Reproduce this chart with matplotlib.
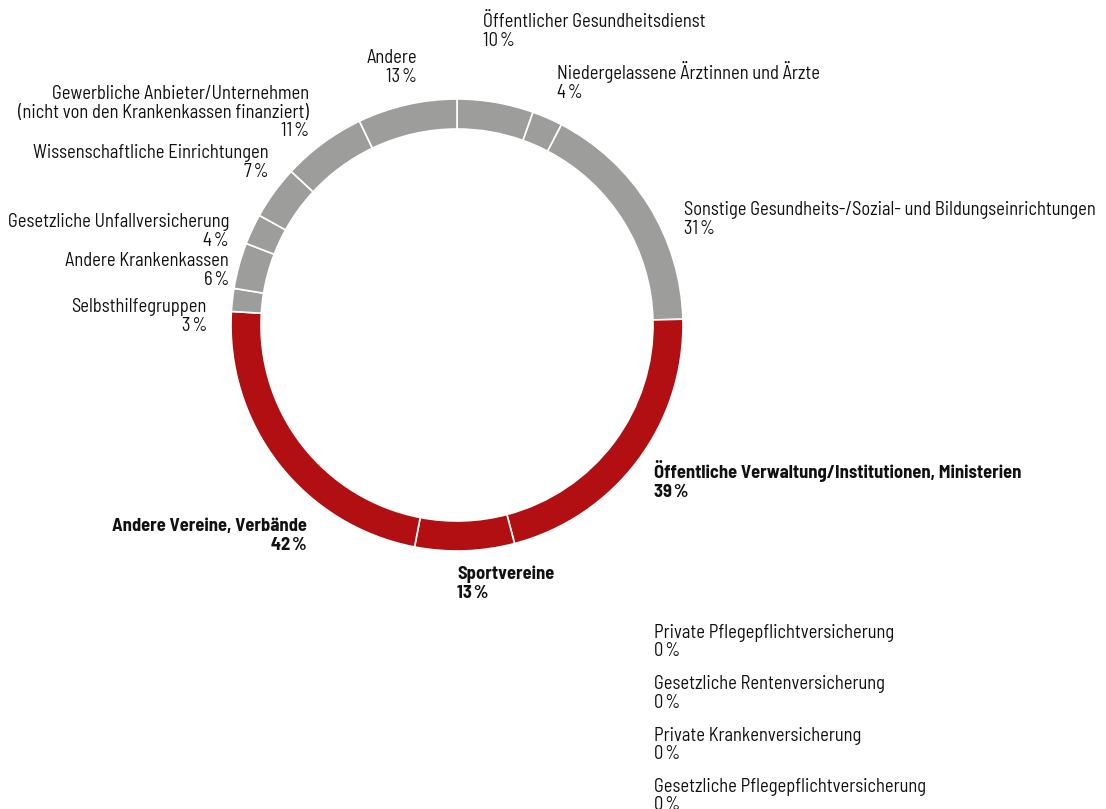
import matplotlib.pyplot as plt
from matplotlib import font_manager

# segments clockwise from 12 o'clock
labels = ["Öffentlicher Gesundheitsdienst", "Niedergelassene Ärztinnen und Ärzte",
          "Sonstige Gesundheits-/Sozial- und Bildungseinrichtungen",
          "Öffentliche Verwaltung/Institutionen, Ministerien", "Sportvereine",
          "Andere Vereine, Verbände", "Selbsthilfegruppen", "Andere Krankenkassen",
          "Gesetzliche Unfallversicherung", "Wissenschaftliche Einrichtungen",
          "Gewerbliche Anbieter/Unternehmen\n(nicht von den Krankenkassen finanziert)",
          "Andere"]
values = [10, 4, 31, 39, 13, 42, 3, 6, 4, 7, 11, 13]
highlight = [False, False, False, True, True, True, False, False, False, False, False, False]

zero_labels = ["Private Pflegepflichtversicherung", "Gesetzliche Rentenversicherung",
               "Private Krankenversicherung", "Gesetzliche Pflegepflichtversicherung"]
zero_values = [0, 0, 0, 0]

GREY = "#9d9d9c"
RED = "#b20f12"
TXT = "#111111"
W, H = 1106, 809

installed = {f.name for f in font_manager.fontManager.ttflist}
if 'Barlow Semi Condensed' in installed:
    plt.rcParams['font.family'] = ['Barlow Semi Condensed', 'DejaVu Sans']
    fs = 13.3
else:
    plt.rcParams['font.family'] = ['DejaVu Sans']
    fs = 10.5

fig = plt.figure(figsize=(W / 100, H / 100), dpi=100)
ax = fig.add_axes([0, 0, 1, 1])

cx, cy = 457, H - 325
colors = [RED if h else GREY for h in highlight]
ax.pie(values, colors=colors, startangle=90, counterclock=False, radius=226,
       center=(cx, cy), wedgeprops=dict(width=30, edgecolor='white', linewidth=1.2))
ax.set_xlim(0, W)
ax.set_ylim(0, H)
ax.set_aspect('equal')
ax.axis('off')

# label anchor: x, y of first line centre (pixels from top-left), alignment
label_pos = [(483, 21, 'left'), (557, 73, 'left'), (684, 209, 'left'),
             (654, 472, 'left'), (457, 573, 'left'), (307, 525, 'right'),
             (207, 306, 'right'), (229, 260, 'right'), (229, 221, 'right'),
             (269, 152, 'right'), (309, 93, 'right'), (417, 57, 'right')]
LINE = 18.5


def put_label(x, y, name, val, ha, bold):
    rows = name.split("\n") + [f"{val}\u200a%"]
    for k, row in enumerate(rows):
        ax.text(x, H - (y + 6 + k * LINE), row, ha=ha, va='baseline', fontsize=fs,
                color=TXT, fontweight='bold' if bold else 'normal')


for lab, val, hl, (px, py, ha) in zip(labels, values, highlight, label_pos):
    put_label(px, py, lab, val, ha, hl)

for i, (lab, val) in enumerate(zip(zero_labels, zero_values)):
    put_label(654, 632 + i * 51.3, lab, val, 'left', False)

fig.savefig("out.png", dpi=100, facecolor='white')
